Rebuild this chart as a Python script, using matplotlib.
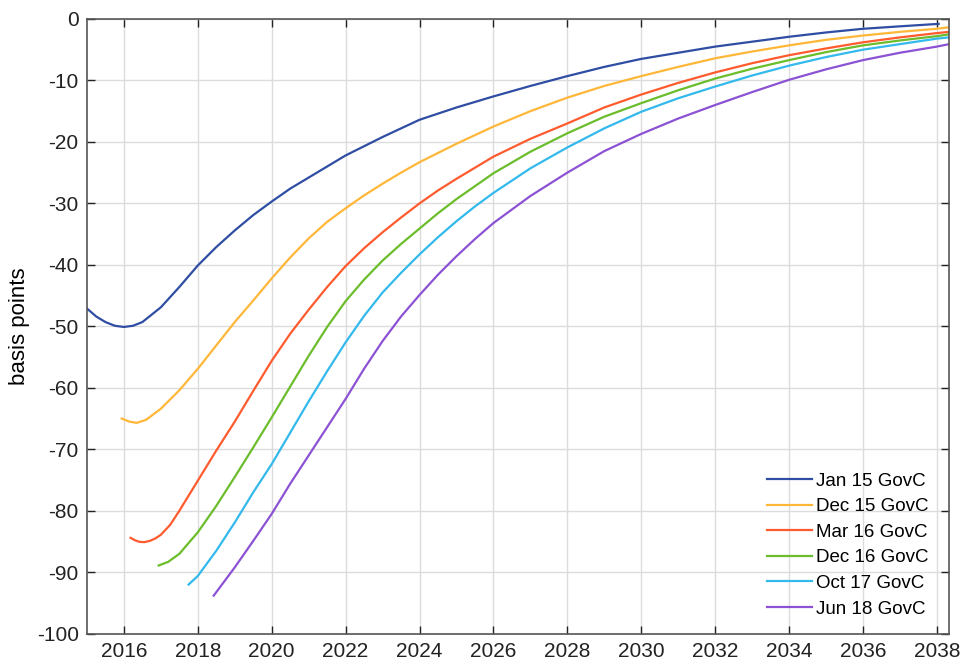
import numpy as np
import matplotlib
matplotlib.use("Agg")
import matplotlib.pyplot as plt

plt.rcParams['font.family'] = ['Liberation Sans', 'DejaVu Sans']
plt.rcParams['axes.unicode_minus'] = False

# (years, basis points)
jan15_x = [2015.0, 2015.25, 2015.5, 2015.75, 2016.0, 2016.25, 2016.5, 2017.0, 2017.5, 2018.0,
           2018.5, 2019.0, 2019.5, 2020.0, 2020.5, 2021.0, 2021.5, 2022.0, 2023.0, 2024.0,
           2025.0, 2026.0, 2027.0, 2028.0, 2029.0, 2030.0, 2031.0, 2032.0, 2033.0, 2034.0,
           2035.0, 2036.0, 2037.0, 2038.05]
jan15_y = [-47.1, -48.4, -49.3, -49.9, -50.1, -49.9, -49.3, -46.9, -43.6, -40.1,
           -37.1, -34.4, -31.9, -29.7, -27.6, -25.8, -24.0, -22.2, -19.2, -16.4,
           -14.4, -12.6, -10.9, -9.3, -7.8, -6.5, -5.5, -4.5, -3.7, -2.9,
           -2.2, -1.6, -1.2, -0.8]

dec15_x = [2015.94, 2016.15, 2016.35, 2016.6, 2017.0, 2017.5, 2018.0, 2018.5, 2019.0, 2019.5,
           2020.0, 2020.5, 2021.0, 2021.5, 2022.0, 2022.5, 2023.0, 2023.5, 2024.0, 2025.0,
           2026.0, 2027.0, 2028.0, 2029.0, 2030.0, 2031.0, 2032.0, 2033.0, 2034.0, 2035.0,
           2036.0, 2037.0, 2038.0, 2038.33]
dec15_y = [-65.0, -65.5, -65.7, -65.2, -63.4, -60.4, -56.9, -53.1, -49.3, -45.8,
           -42.2, -38.8, -35.7, -33.0, -30.8, -28.7, -26.8, -25.0, -23.3, -20.3,
           -17.5, -15.0, -12.8, -10.9, -9.3, -7.8, -6.4, -5.3, -4.3, -3.4,
           -2.7, -2.1, -1.6, -1.35]

mar16_x = [2016.18, 2016.3, 2016.42, 2016.55, 2016.7, 2016.85, 2017.0, 2017.25, 2017.5, 2018.0,
           2018.5, 2019.0, 2019.5, 2020.0, 2020.5, 2021.0, 2021.5, 2022.0, 2022.5, 2023.0,
           2023.5, 2024.0, 2024.5, 2025.0, 2026.0, 2027.0, 2028.0, 2029.0, 2030.0, 2031.0,
           2032.0, 2033.0, 2034.0, 2035.0, 2036.0, 2037.0, 2038.0, 2038.33]
mar16_y = [-84.4, -84.8, -85.05, -85.1, -84.9, -84.5, -83.9, -82.3, -80.0, -75.1,
           -70.2, -65.5, -60.5, -55.6, -51.2, -47.3, -43.6, -40.2, -37.3, -34.7,
           -32.3, -30.0, -27.9, -26.0, -22.4, -19.5, -17.0, -14.4, -12.3, -10.4,
           -8.7, -7.2, -5.9, -4.8, -3.8, -3.0, -2.3, -2.1]

dec16_x = [2016.94, 2017.2, 2017.5, 2018.0, 2018.5, 2019.0, 2019.5, 2020.0, 2020.5, 2021.0,
           2021.5, 2022.0, 2022.5, 2023.0, 2023.5, 2024.0, 2024.5, 2025.0, 2026.0, 2027.0,
           2028.0, 2029.0, 2030.0, 2031.0, 2032.0, 2033.0, 2034.0, 2035.0, 2036.0, 2037.0,
           2038.0, 2038.33]
dec16_y = [-88.9, -88.3, -87.0, -83.5, -79.2, -74.5, -69.7, -64.8, -59.8, -54.8,
           -50.1, -45.9, -42.4, -39.3, -36.6, -34.1, -31.6, -29.3, -25.1, -21.6,
           -18.6, -15.9, -13.7, -11.6, -9.7, -8.1, -6.7, -5.4, -4.3, -3.5,
           -2.8, -2.5]

oct17_x = [2017.75, 2018.0, 2018.5, 2019.0, 2019.5, 2020.0, 2020.5, 2021.0, 2021.5, 2022.0,
           2022.5, 2023.0, 2023.5, 2024.0, 2024.5, 2025.0, 2025.5, 2026.0, 2027.0, 2028.0,
           2029.0, 2030.0, 2031.0, 2032.0, 2033.0, 2034.0, 2035.0, 2036.0, 2037.0, 2038.0,
           2038.33]
oct17_y = [-92.0, -90.6, -86.5, -81.9, -77.0, -72.4, -67.3, -62.2, -57.3, -52.6,
           -48.3, -44.5, -41.3, -38.3, -35.5, -32.9, -30.5, -28.3, -24.3, -20.9,
           -17.8, -15.1, -12.9, -11.0, -9.2, -7.6, -6.2, -5.0, -4.1, -3.2,
           -3.0]

jun18_x = [2018.43, 2019.0, 2019.5, 2020.0, 2020.5, 2021.0, 2021.5, 2022.0, 2022.5, 2023.0,
           2023.5, 2024.0, 2024.5, 2025.0, 2025.5, 2026.0, 2027.0, 2028.0, 2029.0, 2030.0,
           2031.0, 2032.0, 2033.0, 2034.0, 2035.0, 2036.0, 2037.0, 2038.0, 2038.33]
jun18_y = [-93.8, -89.2, -84.9, -80.5, -75.6, -71.0, -66.4, -61.8, -56.9, -52.4,
           -48.4, -44.9, -41.6, -38.6, -35.8, -33.2, -28.8, -25.0, -21.5, -18.7,
           -16.2, -14.0, -11.9, -9.9, -8.2, -6.7, -5.5, -4.5, -4.1]

labels = ["Jan 15 GovC", "Dec 15 GovC", "Mar 16 GovC", "Dec 16 GovC", "Oct 17 GovC", "Jun 18 GovC"]
colors = ["#2f4ea3", "#ffb739", "#ff5b2e", "#6bbd2c", "#33b9ec", "#8c52d4"]
series = [(jan15_x, jan15_y), (dec15_x, dec15_y), (mar16_x, mar16_y),
          (dec16_x, dec16_y), (oct17_x, oct17_y), (jun18_x, jun18_y)]

fig = plt.figure(figsize=(9.61, 6.65), dpi=100)
ax = fig.add_axes([0.0905, 0.047, 0.897, 0.9245])

for (x, y), lab, c in zip(series, labels, colors):
    ax.plot(x, y, color=c, lw=1.6, label=lab)

ax.set_xlim(2015, 2038.33)
ax.set_ylim(-100, 0)
ax.set_xticks(np.arange(2016, 2039, 2))
ax.set_yticks(np.arange(-100, 1, 10))
ax.grid(True, color="#dcdcdc", lw=1)
ax.tick_params(direction="in", length=6, width=1, top=True, right=True,
               labelsize=15, colors="#222222", pad=6)
for s in ax.spines.values():
    s.set_color("#555555")
    s.set_linewidth(1.2)
ax.set_ylabel("basis points", fontsize=16, labelpad=4.5)

leg = ax.legend(loc="lower right", frameon=False, fontsize=13.5, handlelength=2.4,
                handletextpad=0.25, labelspacing=0.45, borderaxespad=0.3,
                bbox_to_anchor=(0.992, 0.005))

fig.savefig("out.png", dpi=100)
